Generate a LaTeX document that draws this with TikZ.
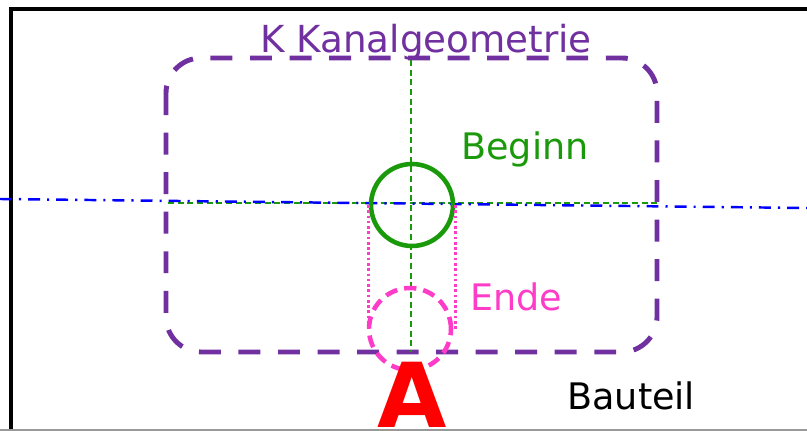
\documentclass[tikz,border=0pt]{standalone}
\usepackage{xcolor}
\usepackage{fontspec}
\setmainfont{DejaVu Sans}
\usepackage{tikz}
\usetikzlibrary{calc,positioning}

\definecolor{kanalviolett}{HTML}{7030A0}
\definecolor{beginngruen}{HTML}{1A9A0A}
\definecolor{endemagenta}{HTML}{FF3CC8}

\begin{document}
\begin{tikzpicture}[x=0.02cm, y=-0.02cm,
      kanal/.style={draw=kanalviolett, line width=2.8pt, rounded corners=20pt,
        dash pattern=on 12.5pt off 10pt},
      achse/.style={beginngruen, line width=1.4pt, dash pattern=on 3.5pt off 2pt},
      mittellinie/.style={blue, line width=1.4pt,
        dash pattern=on 6.8pt off 4pt on 1.2pt off 4pt},
      kreis/.style={circle, minimum size=1.64cm, inner sep=0pt, line width=2.6pt},
      hilfslinie/.style={endemagenta, line width=1.5pt, dash pattern=on 1.5pt off 1.5pt},
      beschriftung/.style={font=\fontsize{20.8}{24}\selectfont, inner sep=0pt},
    ]
    \useasboundingbox (0,0) rectangle (807,431);
    % Bauteil
    \draw[line width=2.8pt] (11,431) -- (11,9) -- (810,9);
    \draw[black!40, line width=0.8pt] (0,430) -- (807,430);
    \node[beschriftung, anchor=base west] (bauteil) at (567,410) {Bauteil};
    % Kanalgeometrie
    \draw[kanal] (166,58) rectangle (657,352);
    \node[beschriftung, kanalviolett, anchor=base, font=\fontsize{21.2}{24}\selectfont]
      (titel) at (426,53) {K Kanalgeometrie};
    % Achsen
    \coordinate (ao) at (411,60);
    \coordinate (au) at (411,352);
    \coordinate (al) at (168,203);
    \coordinate (ar) at (657,203);
    \coordinate (ml) at (0,199);
    \coordinate (mr) at (807,208);
    \draw[achse] (ao) -- (au);
    \draw[achse] (al) -- (ar);
    \draw[mittellinie] (ml) -- (mr);
    % Kreise
    \node[kreis, draw=beginngruen] (beginn) at (412,205) {};
    \node[kreis, draw=endemagenta, dash pattern=on 7pt off 4pt] (ende) at (410,329) {};
    \draw[hilfslinie] (beginn.west) -- (beginn.west |- ende.center);
    \draw[hilfslinie] (beginn.east) -- (beginn.east |- ende.center);
    \node[beschriftung, beginngruen, anchor=base west] (lbeginn) at (461,160) {Beginn};
    \node[beschriftung, endemagenta, anchor=base west] (lende) at (470,311) {Ende};
    % Ansicht A
    \node[font=\fontsize{51}{60}\bfseries, red, inner sep=0pt, anchor=base] (a) at (412,428) {A};
  \end{tikzpicture}
\end{document}
